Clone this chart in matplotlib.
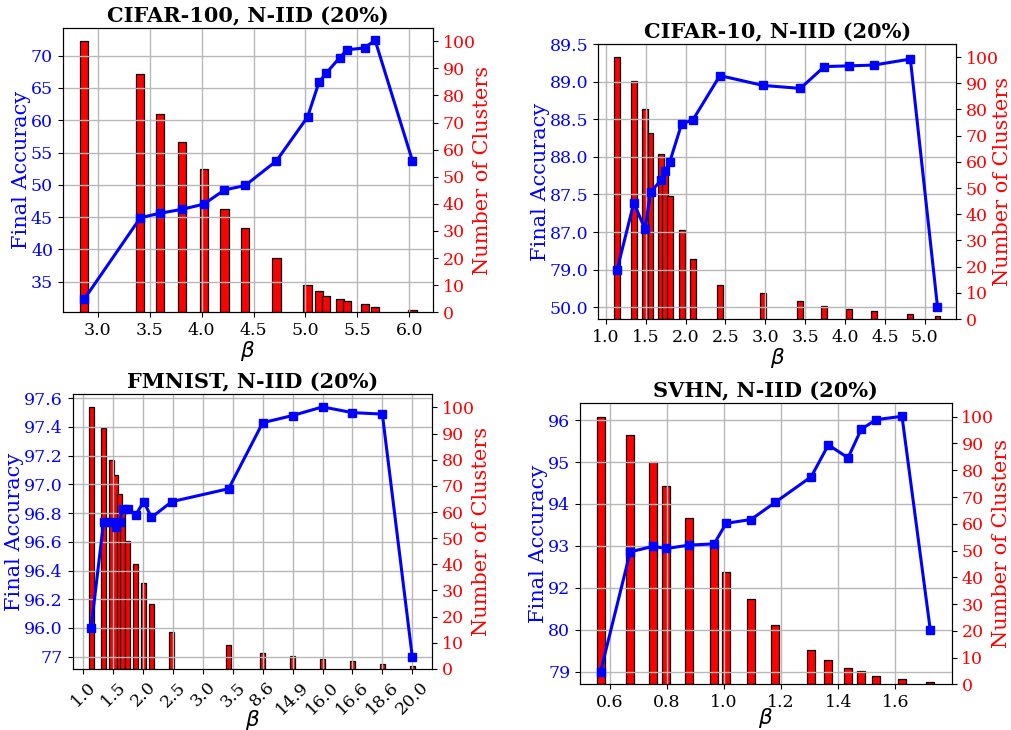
import matplotlib
matplotlib.use("Agg")
import matplotlib.pyplot as plt

plt.rcParams['font.family'] = ['DejaVu Serif']
plt.rcParams['mathtext.fontset'] = 'dejavusans'

# ---------------- CIFAR-100 ----------------
c100_beta = [2.87, 3.41, 3.60, 3.81, 4.02, 4.22, 4.42, 4.72, 5.02, 5.13,
             5.20, 5.33, 5.40, 5.57, 5.67, 6.03]
c100_acc = [32.3, 44.9, 45.6, 46.2, 47.0, 49.2, 49.9, 53.7, 60.5, 65.9,
            67.3, 69.7, 70.9, 71.2, 72.4, 53.7]
c100_clusters = [100, 88, 73, 63, 53, 38, 31, 20, 10, 8, 6, 5, 4, 3, 2, 1]
c100_xticks = [3.0, 3.5, 4.0, 4.5, 5.0, 5.5, 6.0]
c100_xticklabels = ['3.0', '3.5', '4.0', '4.5', '5.0', '5.5', '6.0']
c100_yticks = [35, 40, 45, 50, 55, 60, 65, 70]
c100_yticklabels = ['35', '40', '45', '50', '55', '60', '65', '70']

# ---------------- CIFAR-10 ----------------
# accuracy axis is drawn on evenly spaced positions; the two lowest
# positions carry the labels '50.0' and '79.0'
c10_beta = [1.14, 1.35, 1.49, 1.56, 1.69, 1.74, 1.80, 1.95, 2.09, 2.43,
            2.97, 3.44, 3.74, 4.05, 4.36, 4.82, 5.16]
c10_acc = [86.5, 87.39, 87.04, 87.53, 87.69, 87.81, 87.93, 88.44, 88.49,
           89.08, 88.95, 88.91, 89.20, 89.21, 89.22, 89.30, 86.01]
c10_clusters = [100, 91, 80, 71, 63, 57, 47, 34, 23, 13, 10, 7, 5, 4, 3, 2, 1]
c10_xticks = [1.0, 1.5, 2.0, 2.5, 3.0, 3.5, 4.0, 4.5, 5.0]
c10_xticklabels = ['1.0', '1.5', '2.0', '2.5', '3.0', '3.5', '4.0', '4.5', '5.0']
c10_yticks = [86.0, 86.5, 87.0, 87.5, 88.0, 88.5, 89.0, 89.5]
c10_yticklabels = ['50.0', '79.0', '87.0', '87.5', '88.0', '88.5', '89.0', '89.5']

# ---------------- FMNIST ----------------
# beta axis uses evenly spaced slots relabelled with the tested values
fm_beta = [1.13, 1.34, 1.47, 1.54, 1.61, 1.66, 1.74, 1.88, 2.01, 2.14,
           2.48, 3.43, 4.0, 4.5, 5.0, 5.5, 6.0, 6.5]
fm_acc = [96.0, 96.74, 96.74, 96.70, 96.74, 96.83, 96.83, 96.79, 96.88,
          96.77, 96.88, 96.97, 97.43, 97.48, 97.54, 97.50, 97.49, 95.8]
fm_clusters = [100, 92, 80, 74, 67, 62, 49, 40, 33, 25, 14, 9, 6, 5, 4, 3, 2, 1]
fm_xticks = [1.0, 1.5, 2.0, 2.5, 3.0, 3.5, 4.0, 4.5, 5.0, 5.5, 6.0, 6.5]
fm_xticklabels = ['1.0', '1.5', '2.0', '2.5', '3.0', '3.5', '8.6', '14.9',
                  '16.0', '16.6', '18.6', '20.0']
fm_yticks = [95.8, 96.0, 96.2, 96.4, 96.6, 96.8, 97.0, 97.2, 97.4, 97.6]
fm_yticklabels = ['77', '96.0', '96.2', '96.4', '96.6', '96.8', '97.0',
                  '97.2', '97.4', '97.6']

# ---------------- SVHN ----------------
sv_beta = [0.567, 0.671, 0.751, 0.798, 0.878, 0.965, 1.007, 1.094, 1.179,
           1.305, 1.365, 1.434, 1.48, 1.532, 1.623, 1.722]
sv_acc = [90.0, 92.86, 92.99, 92.94, 93.02, 93.05, 93.54, 93.63, 94.04,
          94.65, 95.41, 95.10, 95.78, 96.01, 96.09, 91.0]
sv_clusters = [100, 93, 83, 74, 62, 52, 42, 32, 22, 13, 9, 6, 5, 3, 2, 1]
sv_xticks = [0.6, 0.8, 1.0, 1.2, 1.4, 1.6]
sv_xticklabels = ['0.6', '0.8', '1.0', '1.2', '1.4', '1.6']
sv_yticks = [90, 91, 92, 93, 94, 95, 96]
sv_yticklabels = ['79', '80', '92', '93', '94', '95', '96']

cluster_ticks = list(range(0, 101, 10))

fig = plt.figure(figsize=(10.12, 7.30), dpi=100)


def panel(rect, title, beta, acc, clusters, bar_w, xlim, ylim,
          xticks, xticklabels, yticks, yticklabels, rot=0, xpad=0,
          rpad=-2):
    ax = fig.add_axes(rect)
    ax2 = ax.twinx()
    ax2.bar(beta, clusters, width=bar_w, color='red', edgecolor='black',
            linewidth=0.9)
    ax2.set_ylim(0, 105)
    ax2.set_yticks(cluster_ticks)
    ax2.tick_params(axis='y', labelcolor='red', labelsize=12.5)
    ax2.set_ylabel('Number of Clusters', color='red', fontsize=15,
                   labelpad=rpad)

    ax.set_zorder(ax2.get_zorder() + 1)
    ax.patch.set_visible(False)
    ax.plot(beta, acc, color='blue', marker='s', markersize=5.5,
            linewidth=2.2)
    ax.grid(True, color='#b8b8b8', linewidth=1.0)
    ax.set_xlim(*xlim)
    ax.set_ylim(*ylim)
    ax.set_yticks(yticks)
    ax.set_yticklabels(yticklabels)
    ax.set_xticks(xticks)
    ax.set_xticklabels(xticklabels, rotation=rot)
    ax.tick_params(axis='y', labelcolor='blue', labelsize=12.5)
    ax.tick_params(axis='x', labelsize=12.5)
    ax.set_ylabel('Final Accuracy', color='blue', fontsize=15, labelpad=0)
    ax.set_xlabel(r'$\beta$', fontsize=15.5, labelpad=xpad)
    ax.set_title(title, fontsize=15, fontweight='bold', pad=4)
    return ax


panel([0.0620, 0.5722, 0.3656, 0.3899], 'CIFAR-100, N-IID (20%)',
      c100_beta, c100_acc, c100_clusters, 0.08, (2.663, 6.225),
      (30.26, 74.33), c100_xticks, c100_xticklabels,
      c100_yticks, c100_yticklabels, xpad=0)

panel([0.5912, 0.5630, 0.3535, 0.3767], 'CIFAR-10, N-IID (20%)',
      c10_beta, c10_acc, c10_clusters, 0.073, (0.904, 5.393),
      (85.845, 89.5), c10_xticks, c10_xticklabels,
      c10_yticks, c10_yticklabels, xpad=0, rpad=-4)

panel([0.0718, 0.0836, 0.3553, 0.3763], 'FMNIST, N-IID (20%)',
      fm_beta, fm_acc, fm_clusters, 0.084, (0.822, 6.834),
      (95.714, 97.628), fm_xticks, fm_xticklabels,
      fm_yticks, fm_yticklabels, rot=45, xpad=-7.5)

panel([0.5731, 0.0625, 0.3673, 0.3850], 'SVHN, N-IID (20%)',
      sv_beta, sv_acc, sv_clusters, 0.028, (0.495, 1.797),
      (89.70, 96.4), sv_xticks, sv_xticklabels,
      sv_yticks, sv_yticklabels, xpad=-4)

fig.savefig('out.png', dpi=100)
